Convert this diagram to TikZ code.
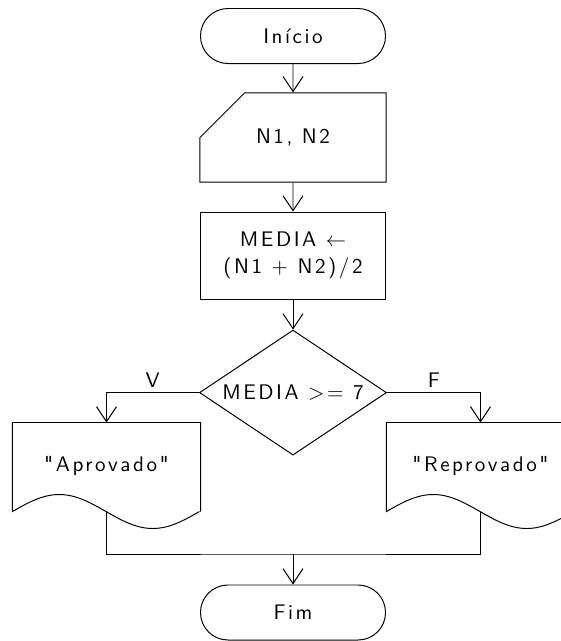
\documentclass[tikz,border=0pt]{standalone}
\usepackage{fontspec}
\newfontfamily\chartfont{lmsans10-regular.otf}[LetterSpace=12]
\usetikzlibrary{shapes.geometric,shapes.misc,arrows.meta}

\begin{document}
\begin{tikzpicture}[x=0.025cm, y=-0.025cm, line width=0.7pt,
    >={Straight Barb[length=3.75mm,width=5mm]},
    font=\chartfont\fontsize{15}{19}\selectfont]
    \tikzstyle{every edge}=[draw,->]
    \tikzstyle{box}=[draw, minimum width=4.625cm, inner sep=0pt]
    \tikzstyle{terminal}=[box, rectangle, rounded corners=0.6875cm, minimum height=1.375cm]
    \tikzstyle{input}=[box, chamfered rectangle, chamfered rectangle corners=north west,
        chamfered rectangle xsep=0.925cm, chamfered rectangle ysep=0.9cm,
        minimum width=4.65cm, minimum height=2.175cm]
    \tikzstyle{process}=[box, rectangle, minimum height=2.175cm, align=center]
    \tikzstyle{decision}=[box, diamond, aspect=1.6, minimum width=4.675cm, minimum height=3.125cm]
    \tikzstyle{document}=[rectangle, minimum width=4.675cm, minimum height=2.2cm, inner sep=0pt]

    \useasboundingbox (0,0) rectangle (561,641);
    \clip (0,0) rectangle (561,641);

    % Draw the main column
    \node[terminal] (start) at (293,36) {Início};
    \node[input, below of=start, node distance=2.5375cm] (read) {N1, N2};
    \node[process, below of=read, node distance=2.95cm] (calc) {MEDIA $\leftarrow$\\(N1 + N2)/2};
    \node[decision, below of=calc, node distance=3.425cm] (test) {MEDIA >= 7};

    % Draw the two output documents
    \foreach \name/\x/\txt in {apr/106.5/"Aprovado", rep/480.5/"Reprovado"}
        \node[document] (\name) at (\x,467) {\raisebox{5pt}{\txt}};
    \foreach \name in {apr,rep}
        \draw (\name.south east) -- (\name.north east) -- (\name.north west) -- (\name.south west)
            sin ++(46.75,-17) cos ++(46.75,17) sin ++(46.75,17) cos ++(46.75,-17);

    \coordinate (join) at (293,554);
    \node[terminal] (stop) at (293,612.5) {Fim};

    % Connect the main column
    \foreach \source/\dest in {start/read, read/calc, calc/test}
        \path (\source) edge (\dest);

    % Branches of the test
    \draw[->] (test.west) -| node[pos=0.25, above] {V} (apr.north);
    \draw[->] (test.east) -| node[pos=0.25, above] {F} (rep.north);

    % Join both branches again
    \draw (apr.south) |- (join) -| (rep.south);
    \path (join) edge (stop);
\end{tikzpicture}
\end{document}
